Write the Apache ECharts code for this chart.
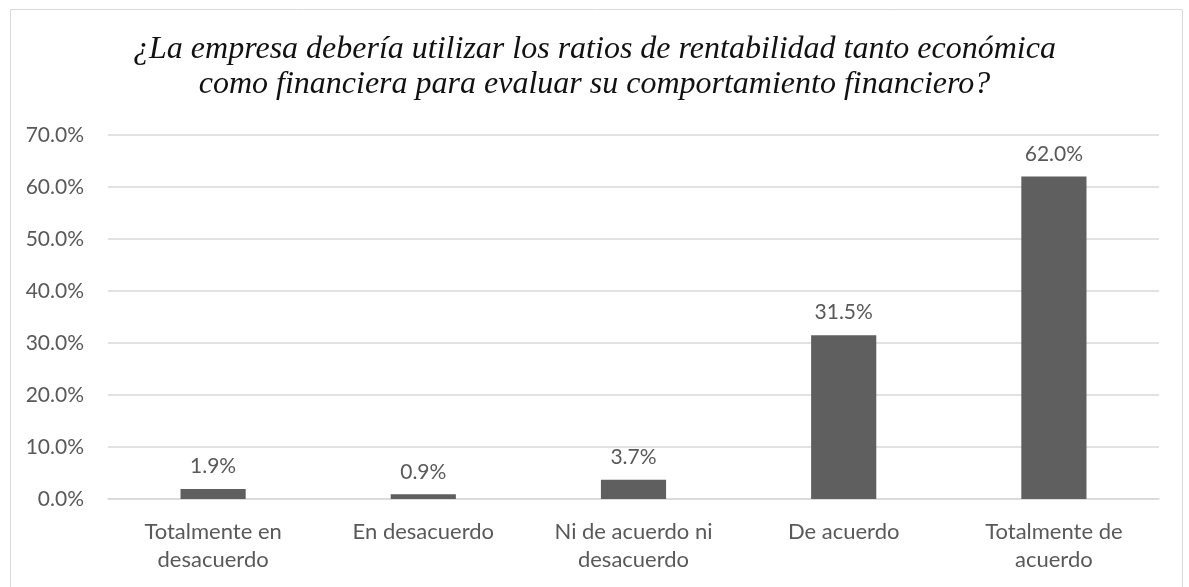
<!DOCTYPE html>
<html>
<head>
<meta charset="utf-8">
<script src="https://cdn.jsdelivr.net/npm/echarts@6/dist/echarts.min.js"></script>
<style>
html,body{margin:0;padding:0;background:#fff;}
#c{width:1189px;height:587px;}
</style>
</head>
<body>
<div id="c"></div>
<script>
const titleText = "¿La empresa debería utilizar los ratios de rentabilidad tanto económica\ncomo financiera para evaluar su comportamiento financiero?";
const categories = ["Totalmente en\ndesacuerdo", "En desacuerdo", "Ni de acuerdo ni\ndesacuerdo", "De acuerdo", "Totalmente de\nacuerdo"];
const values = [1.9, 0.9, 3.7, 31.5, 62.0];
const yMin = 0, yMax = 70, yStep = 10;

const chart = echarts.init(document.getElementById('c'), null, {renderer: 'canvas'});
chart.setOption({
  animation: false,
  backgroundColor: '#fff',
  graphic: [{
    type: 'rect', left: 8, top: 7, silent: true, z: -1,
    shape: {width: 1172, height: 600},
    style: {fill: 'none', stroke: '#d9d9d9', lineWidth: 1}
  }],
  title: {
    text: titleText,
    left: 'center', top: 27,
    textStyle: {fontFamily: 'Liberation Serif', fontStyle: 'italic', fontWeight: 'normal', fontSize: 32, color: '#111', lineHeight: 35}
  },
  grid: {left: 108, right: 30, top: 135, bottom: 88, containLabel: false},
  xAxis: {
    type: 'category', data: categories,
    axisTick: {show: false},
    axisLine: {lineStyle: {color: '#d9d9d9', width: 1.5}},
    axisLabel: {color: '#595959', fontFamily: 'Lato', fontSize: 22, lineHeight: 28, margin: 19, interval: 0}
  },
  yAxis: {
    type: 'value', min: yMin, max: yMax, interval: yStep,
    axisLine: {show: false}, axisTick: {show: false},
    splitLine: {lineStyle: {color: '#d9d9d9', width: 1.5}},
    axisLabel: {color: '#595959', fontFamily: 'Lato', fontSize: 21, margin: 24, formatter: v => v.toFixed(1) + '%'}
  },
  series: [{
    type: 'bar', data: values, barWidth: '31%',
    itemStyle: {color: '#5f5f5f'},
    label: {show: true, position: 'top', distance: 12, color: '#595959', fontFamily: 'Lato', fontSize: 21, formatter: p => p.value.toFixed(1) + '%'}
  }]
});
</script>
</body>
</html>
